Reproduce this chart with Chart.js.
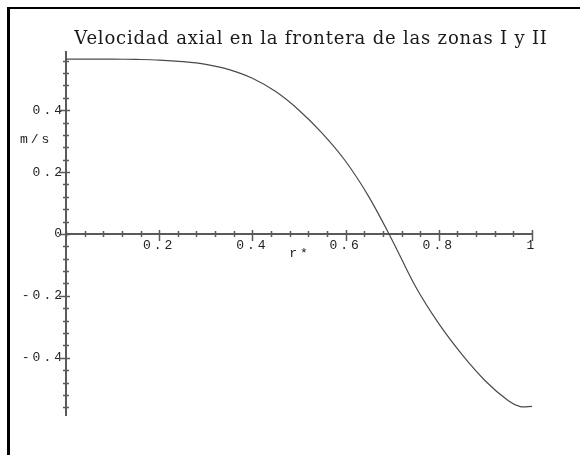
<!DOCTYPE html>
<html>
<head>
<meta charset="utf-8">
<script src="https://cdn.jsdelivr.net/npm/chart.js@4/dist/chart.umd.min.js"></script>
<style>
  html, body { margin: 0; padding: 0; background: #fff; }
  #wrap { width: 580px; height: 455px; }
</style>
</head>
<body>
<div id="wrap"><canvas id="c" width="580" height="455"></canvas></div>
<script>
// Axial velocity profile on the I/II zone boundary
const titleText = 'Velocidad axial en la frontera de las zonas I y II';
const xAxisLabel = 'r*';
const yAxisLabel = 'm/s';

const radius = [0, 0.05, 0.1, 0.15, 0.2, 0.25, 0.3, 0.35, 0.4, 0.45, 0.5, 0.55,
                0.6, 0.65, 0.7, 0.75, 0.8, 0.85, 0.9, 0.95, 0.975, 1];
const axialVelocity = [0.565, 0.565, 0.565, 0.564, 0.562, 0.557, 0.548, 0.531, 0.503, 0.46, 0.4, 0.325,
                       0.235, 0.12, -0.02, -0.17, -0.29, -0.39, -0.475, -0.54, -0.558, -0.557];

const xMajorTicks = [0.2, 0.4, 0.6, 0.8, 1];
const yMajorTicks = [-0.4, -0.2, 0, 0.2, 0.4];
const minorStep = 0.04;

const xRange = [0, 1];
const yRange = [-0.585, 0.588];

const axisColor = '#5a5a5a';
const labelColor = '#222';
const labelFont = '"Liberation Mono", "DejaVu Sans Mono", monospace';

function stepTicks(lo, hi) {
  const out = [];
  const first = Math.ceil(lo / minorStep - 1e-9);
  const last = Math.floor(hi / minorStep + 1e-9);
  for (let k = first; k <= last; k++) out.push({ value: Math.round(k * minorStep * 1000) / 1000 });
  return out;
}
const isMajor = (list, v) => list.some(m => Math.abs(m - v) < 1e-6);
const fmt = v => String(Math.round(v * 100) / 100);

// Frame, title, axis names and crossing tick marks
const decor = {
  id: 'decor',
  beforeDraw(chart) {
    const ctx = chart.ctx;
    ctx.save();
    ctx.fillStyle = '#000';
    ctx.fillRect(7, 7, 573, 2);
    ctx.fillRect(7, 7, 3, 448);
    ctx.fillStyle = '#1a1a1a';
    ctx.font = '18px "DejaVu Serif", "Liberation Serif", serif';
    ctx.letterSpacing = '0.8px';
    ctx.textAlign = 'center';
    ctx.textBaseline = 'alphabetic';
    ctx.fillText(titleText, 311, 44);
    ctx.restore();
    ctx.letterSpacing = '0px';
  },
  afterDatasetsDraw(chart) {
    chart.ctx.letterSpacing = '3px';
  },
  afterDraw(chart) {
    const ctx = chart.ctx;
    const xs = chart.scales.x, ys = chart.scales.y;
    const x0 = xs.getPixelForValue(0), y0 = ys.getPixelForValue(0);
    ctx.save();
    ctx.strokeStyle = axisColor;
    ctx.lineWidth = 1.5;
    ctx.beginPath();
    xs.ticks.forEach(t => {
      const p = Math.round(xs.getPixelForValue(t.value)) + 0.5;
      const major = isMajor(xMajorTicks, t.value);
      ctx.moveTo(p, y0 - (major ? 4 : 3));
      ctx.lineTo(p, y0 + (major ? 7 : 3));
    });
    ys.ticks.forEach(t => {
      const p = Math.round(ys.getPixelForValue(t.value)) + 0.5;
      const major = isMajor(yMajorTicks, t.value);
      ctx.moveTo(x0 - (major ? 7 : 3), p);
      ctx.lineTo(x0 + (major ? 4 : 3), p);
    });
    ctx.stroke();
    ctx.fillStyle = labelColor;
    ctx.font = '13px ' + labelFont;
    ctx.letterSpacing = '3px';
    ctx.textBaseline = 'middle';
    ctx.textAlign = 'left';
    ctx.fillText(yAxisLabel, 20, ys.getPixelForValue(0.306));
    ctx.textAlign = 'center';
    ctx.fillText(xAxisLabel, xs.getPixelForValue(0.5) + 1, ys.getPixelForValue(0) + 20);
    ctx.restore();
    ctx.letterSpacing = '0px';
  }
};

new Chart(document.getElementById('c'), {
  type: 'line',
  data: {
    datasets: [{
      data: radius.map((r, i) => ({ x: r, y: axialVelocity[i] })),
      borderColor: '#4a4a4a',
      borderWidth: 1.2,
      pointRadius: 0,
      fill: false,
      tension: 0.35
    }]
  },
  options: {
    responsive: false,
    animation: false,
    events: [],
    layout: { padding: { top: 52, right: 48, bottom: 40, left: 0 } },
    plugins: { legend: { display: false }, title: { display: false }, tooltip: { enabled: false } },
    scales: {
      x: {
        type: 'linear',
        min: xRange[0], max: xRange[1],
        position: { y: 0 },
        grid: { display: false, drawTicks: false },
        border: { display: true, color: axisColor, width: 2 },
        afterBuildTicks: s => { s.ticks = stepTicks(xRange[0], xRange[1]); },
        afterFit: s => { s.height = 0; },
        ticks: {
          z: 1,
          autoSkip: false, maxRotation: 0, padding: 4,
          color: labelColor,
          font: { family: labelFont, size: 13 },
          callback: v => (v !== 0 && isMajor(xMajorTicks, v)) ? fmt(v) : ''
        }
      },
      y: {
        type: 'linear',
        min: yRange[0], max: yRange[1],
        position: 'left',
        grid: { display: false, drawTicks: false },
        border: { display: true, color: axisColor, width: 2 },
        afterBuildTicks: s => { s.ticks = stepTicks(-0.56, 0.56); },
        afterFit: s => { s.width = 66; },
        ticks: {
          z: 1,
          autoSkip: false, padding: 1,
          color: labelColor,
          font: { family: labelFont, size: 13 },
          callback: v => isMajor(yMajorTicks, v) ? fmt(v) : ''
        }
      }
    }
  },
  plugins: [decor]
});
</script>
</body>
</html>
